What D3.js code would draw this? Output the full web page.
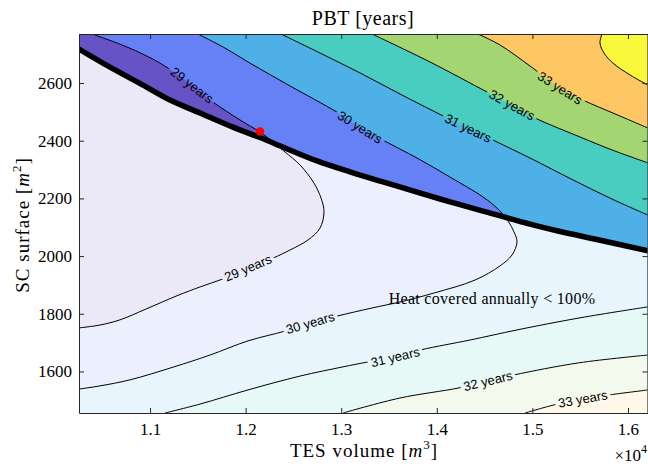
<!DOCTYPE html>
<html>
<head>
<meta charset="utf-8">
<script src="https://cdn.jsdelivr.net/npm/d3@7"></script>
<style>
  body { margin: 0; background: #fff; }
</style>
</head>
<body>
<div id="chart"></div>
<script>
// contour levels (years) and the fill colour of each band, lowest first
const levels = [29, 30, 31, 32, 33, 34];
const bandColors = ["#6653c6", "#6681f6", "#4fb0e8", "#48cdc0", "#a3d673", "#fec763", "#f9f83b"];

// contour lines: [TES volume m3, SC surface m2]
const line29 = [[10393,2770],[10759,2725],[11105,2669],[11439,2593],[11659,2534],[11941,2472],[12151,2430],
  [12276,2399],[12412,2361],[12569,2316],[12715,2253],[12789,2201],[12820,2153],[12778,2097],[12653,2056],
  [12464,2021],[12287,1993],[12025,1959],[11764,1921],[11523,1893],[11293,1864],[10948,1815],[10686,1779],
  [10477,1761],[10257,1751]];
const line30 = [[11502,2770],[11785,2721],[12046,2669],[12464,2590],[12956,2499],[13197,2447],[13437,2402],
  [13793,2340],[14138,2274],[14483,2205],[14640,2163],[14745,2122],[14807,2084],[14839,2049],
  [14787,2004],[14661,1966],[14400,1917],[13971,1872],[13615,1841],[13322,1820],[12956,1792],[12674,1768],
  [12412,1740],[12025,1706],[11628,1657],[11251,1616],[10791,1571],[10477,1550],[10257,1539]];
const line31top = [[12370,2770],[12778,2704],[13197,2635],[13615,2562],[14065,2486],[14326,2444],[14609,2399],
  [14975,2340],[15425,2264],[15812,2201],[16209,2142]];
const line31low = [[11157,1456],[11523,1487],[12025,1536],[12569,1584],[13019,1616],[13280,1633],[13563,1650],
  [13835,1675],[14347,1709],[14839,1744],[15498,1786],[16209,1824]];
const line32top = [[13322,2770],[13929,2673],[14525,2569],[14787,2524],[15027,2479],[15498,2413],[15833,2368],[16209,2323]];
const line32low = [[13019,1456],[13615,1508],[14232,1543],[14535,1567],[14807,1588],[15487,1630],[16209,1657]];
const line33top = [[14431,2770],[14661,2732],[14975,2659],[15289,2583],[15529,2541],[15864,2493],[16209,2444]];
const line33low = [[14923,1456],[15226,1484],[15529,1505],[15812,1519],[16209,1536]];
const line34top = [[15728,2770],[15707,2739],[15749,2704],[15843,2669],[16021,2628],[16209,2593]];

// where the inline labels sit on each line
const labels29 = [[11439,2593],[12025,1959]];
const labels30 = [[13197,2447],[12674,1768]];
const labels31 = [[14326,2444],[13563,1650]];
const labels32 = [[14787,2524],[14535,1564]];
const labels33 = [[15289,2583],[15529,1505]];

// limit where heat is covered annually (thick line) and the chosen design point
const limitLine = [[10257,2718],[10582,2655],[10927,2593],[11209,2541],[11523,2496],[11868,2447],[12151,2411],
  [12412,2375],[12747,2330],[13092,2292],[13437,2257],[13793,2222],[14138,2188],[14483,2156],[14975,2111],
  [15268,2087],[15697,2056],[16209,2018]];
const designPoint = [12151, 2432];

const xTicks = [11000, 12000, 13000, 14000, 15000, 16000];
const yTicks = [1600, 1800, 2000, 2200, 2400, 2600];

const W = 648, H = 468;
const plot = { left: 79, right: 647.5, top: 34, bottom: 413 };

const x = d3.scaleLinear().domain([10257, 16204]).range([plot.left, plot.right]);
const y = d3.scaleLinear().domain([1456, 2770]).range([plot.bottom, plot.top]);

const svg = d3.select("#chart").append("svg")
  .attr("width", W).attr("height", H);

const defs = svg.append("defs");
defs.append("clipPath").attr("id", "clip")
  .append("rect")
  .attr("x", plot.left).attr("y", plot.top)
  .attr("width", plot.right - plot.left).attr("height", plot.bottom - plot.top);

const curve = d3.line().x(d => x(d[0])).y(d => y(d[1])).curve(d3.curveCatmullRom.alpha(0.5));

const corner = {
  tr: [x.range()[1] + 2, y.range()[1] - 2],
  br: [x.range()[1] + 2, y.range()[0] + 2],
  bl: [x.range()[0] - 2, y.range()[0] + 2]
};

// pieces of each contour level and how the band above it closes on the frame
const pieces = [
  { level: 29, pts: line29, close: ["bl", "br", "tr"], labels: [labels29[0], labels29[1]] },
  { level: 30, pts: line30, close: ["bl", "br", "tr"], labels: [labels30[0], labels30[1]] },
  { level: 31, pts: line31top, close: ["tr"], labels: [labels31[0]] },
  { level: 31, pts: line31low, close: ["br"], labels: [labels31[1]] },
  { level: 32, pts: line32top, close: ["tr"], labels: [labels32[0]] },
  { level: 32, pts: line32low, close: ["br"], labels: [labels32[1]] },
  { level: 33, pts: line33top, close: ["tr"], labels: [labels33[0]] },
  { level: 33, pts: line33low, close: ["br"], labels: [labels33[1]] },
  { level: 34, pts: line34top, close: ["tr"], labels: [] }
];

const g = svg.append("g").attr("clip-path", "url(#clip)");

// filled bands
g.append("rect")
  .attr("x", plot.left).attr("y", plot.top)
  .attr("width", plot.right - plot.left).attr("height", plot.bottom - plot.top)
  .attr("fill", bandColors[0]);

g.selectAll(".band")
  .data(pieces)
  .enter()
  .append("path")
    .attr("class", "band")
    .attr("d", d => curve(d.pts) + d.close.map(c => "L" + corner[c][0] + "," + corner[c][1]).join("") + "Z")
    .attr("fill", d => bandColors[levels.indexOf(d.level) + 1]);

// wash out the part below the limit line
g.append("path")
  .attr("d", curve(limitLine) + "L" + corner.br[0] + "," + corner.br[1] + "L" + corner.bl[0] + "," + corner.bl[1] + "Z")
  .attr("fill", "#fff")
  .attr("fill-opacity", 0.87);

// contour lines, with gaps where the labels go
const mask = defs.append("mask").attr("id", "labelGaps");
mask.append("rect").attr("x", 0).attr("y", 0).attr("width", W).attr("height", H).attr("fill", "#fff");

const lines = g.append("g").attr("mask", "url(#labelGaps)");
const labelLayer = g.append("g");

pieces.forEach(p => {
  const path = lines.append("path")
    .attr("d", curve(p.pts))
    .attr("fill", "none")
    .attr("stroke", "#000")
    .attr("stroke-width", 1);

  const node = path.node();
  const total = node.getTotalLength();

  p.labels.forEach(lp => {
    const tx = x(lp[0]), ty = y(lp[1]);
    let best = 0, bestD = Infinity;
    for (let L = 0; L <= total; L += 0.5) {
      const q = node.getPointAtLength(L);
      const dd = (q.x - tx) ** 2 + (q.y - ty) ** 2;
      if (dd < bestD) { bestD = dd; best = L; }
    }
    const a = node.getPointAtLength(Math.max(0, best - 8));
    const b = node.getPointAtLength(Math.min(total, best + 8));
    const c = node.getPointAtLength(best);
    let ang = Math.atan2(b.y - a.y, b.x - a.x) * 180 / Math.PI;
    if (ang > 90) ang -= 180;
    if (ang < -90) ang += 180;

    const t = labelLayer.append("text")
      .attr("transform", "translate(" + c.x + "," + c.y + ") rotate(" + ang + ")")
      .attr("text-anchor", "middle")
      .attr("dy", "0.35em")
      .attr("font-family", "Liberation Sans, Arial, sans-serif")
      .attr("font-size", 13)
      .attr("fill", "#000")
      .text(p.level + " years");

    const tw = t.node().getComputedTextLength();
    mask.append("rect")
      .attr("x", -tw / 2 - 3).attr("y", -6)
      .attr("width", tw + 6).attr("height", 12)
      .attr("transform", "translate(" + c.x + "," + c.y + ") rotate(" + ang + ")")
      .attr("fill", "#000");
  });
});

// thick limit line
g.append("path")
  .attr("d", curve(limitLine))
  .attr("fill", "none")
  .attr("stroke", "#000")
  .attr("stroke-width", 5.5)
  .attr("stroke-linecap", "round")
  .attr("stroke-linejoin", "round");

// design point
g.append("circle")
  .attr("cx", x(designPoint[0]))
  .attr("cy", y(designPoint[1]))
  .attr("r", 4.2)
  .attr("fill", "#ff0000");

const serif = "Liberation Serif, DejaVu Serif, serif";
const axisColor = "#262626";

// annotation
svg.append("text")
  .attr("x", 492).attr("y", 304)
  .attr("text-anchor", "middle")
  .attr("font-family", serif)
  .attr("font-size", 16)
  .attr("letter-spacing", 0.3)
  .attr("fill", "#000")
  .text("Heat covered annually < 100%");

// axes, ticks pointing inwards on all four sides
const xAxis = svg.append("g")
  .attr("transform", "translate(0," + plot.bottom + ")")
  .call(d3.axisBottom(x).tickValues(xTicks).tickFormat(d => (d / 1e4).toFixed(1))
    .tickSizeInner(-5).tickSizeOuter(0).tickPadding(10));
const yAxis = svg.append("g")
  .attr("transform", "translate(" + plot.left + ",0)")
  .call(d3.axisLeft(y).tickValues(yTicks).tickFormat(d3.format("d"))
    .tickSizeInner(-5).tickSizeOuter(0).tickPadding(7));
const topAxis = svg.append("g")
  .attr("transform", "translate(0," + plot.top + ")")
  .call(d3.axisTop(x).tickValues(xTicks).tickFormat("").tickSizeInner(-5).tickSizeOuter(0));
const rightAxis = svg.append("g")
  .attr("transform", "translate(" + plot.right + ",0)")
  .call(d3.axisRight(y).tickValues(yTicks).tickFormat("").tickSizeInner(-5).tickSizeOuter(0));

[xAxis, yAxis, topAxis, rightAxis].forEach(a => {
  a.select(".domain").attr("stroke", axisColor);
  a.selectAll(".tick line").attr("stroke", axisColor);
  a.selectAll(".tick text")
    .attr("font-family", serif)
    .attr("font-size", 17)
    .attr("fill", "#000");
});

// title and axis labels
svg.append("text")
  .attr("x", 363).attr("y", 25)
  .attr("text-anchor", "middle")
  .attr("font-family", serif)
  .attr("font-size", 20)
  .attr("letter-spacing", 0.5)
  .text("PBT [years]");

const xl = svg.append("text")
  .attr("x", 364).attr("y", 457)
  .attr("text-anchor", "middle")
  .attr("font-family", serif)
  .attr("font-size", 19)
  .attr("letter-spacing", 1);
xl.append("tspan").text("TES volume [");
xl.append("tspan").attr("font-style", "italic").text("m");
xl.append("tspan").attr("dy", -8).attr("font-size", 13).text("3");
xl.append("tspan").attr("dy", 8).text("]");

const yl = svg.append("text")
  .attr("transform", "translate(29,225) rotate(-90)")
  .attr("text-anchor", "middle")
  .attr("font-family", serif)
  .attr("font-size", 19)
  .attr("letter-spacing", 1);
yl.append("tspan").text("SC surface [");
yl.append("tspan").attr("font-style", "italic").text("m");
yl.append("tspan").attr("dy", -8).attr("font-size", 13).text("2");
yl.append("tspan").attr("dy", 8).text("]");

const ex = svg.append("text")
  .attr("x", 647).attr("y", 461)
  .attr("text-anchor", "end")
  .attr("font-family", serif)
  .attr("font-size", 17);
ex.append("tspan").text("\u00d710");
ex.append("tspan").attr("dy", -8).attr("font-size", 12).text("4");
</script>
</body>
</html>
